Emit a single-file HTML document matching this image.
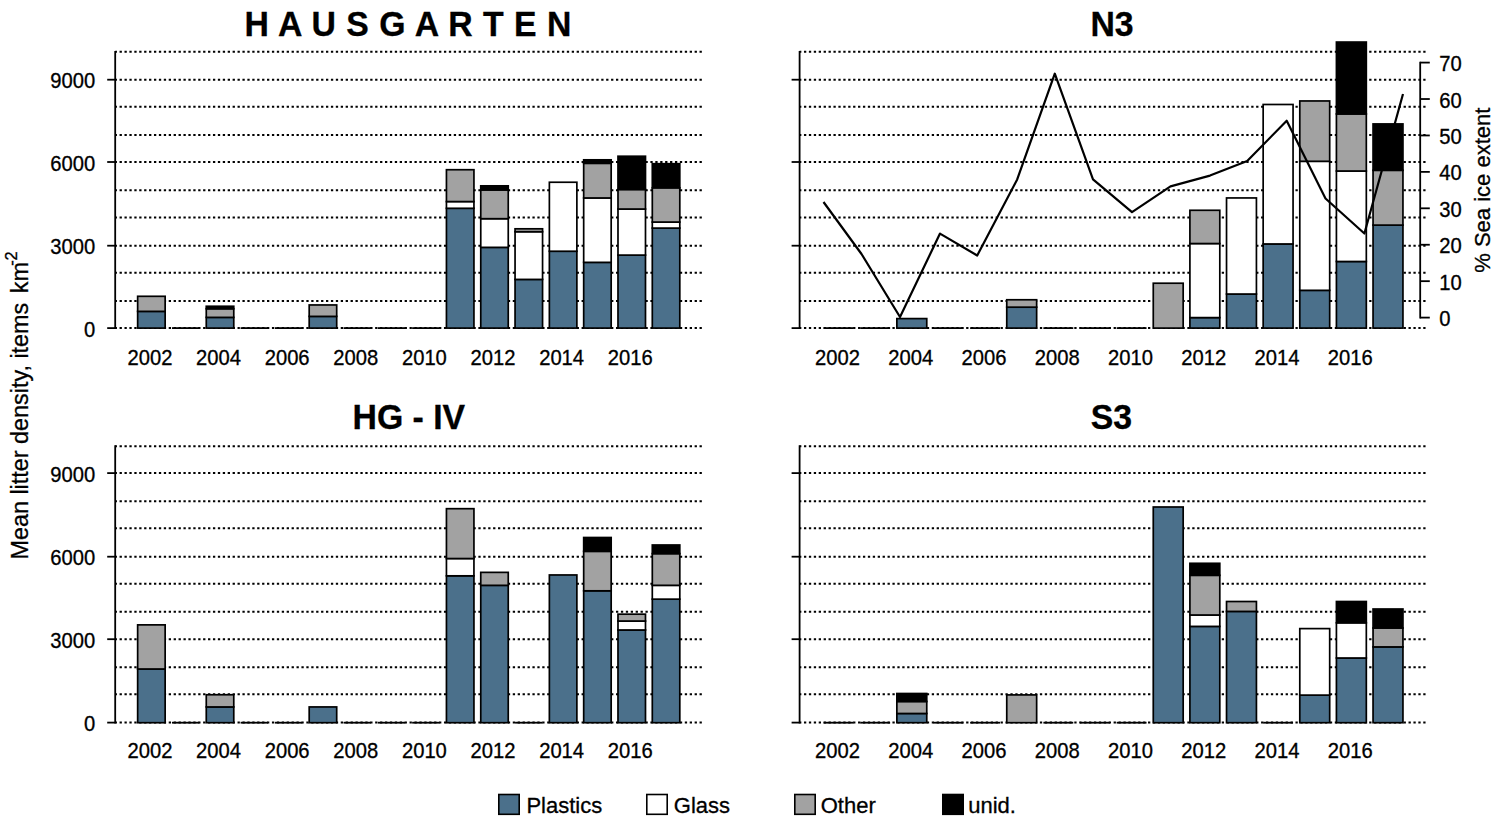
<!DOCTYPE html>
<html><head><meta charset="utf-8"><title>Litter density</title>
<style>
html,body{margin:0;padding:0;background:#fff;}
body{width:1500px;height:831px;overflow:hidden;font-family:"Liberation Sans",sans-serif;}
svg{display:block;}
text{font-family:"Liberation Sans",sans-serif;fill:#000;stroke:#000;stroke-width:0.3px;}
.t{font-size:20.2px;}
.leg{font-size:22px;}
.yl{font-size:23.4px;}
.title{font-size:33.8px;font-weight:bold;}
.dot{stroke:#000;stroke-width:2;stroke-dasharray:2.3 2.615;stroke-dashoffset:0.55;}
</style></head>
<body>
<svg width="1500" height="831" viewBox="0 0 1500 831">
<rect x="0" y="0" width="1500" height="831" fill="#fff"/>
<line x1="115.20" y1="328.10" x2="702.00" y2="328.10" class="dot"/>
<line x1="115.20" y1="301.10" x2="702.00" y2="301.10" class="dot"/>
<line x1="115.20" y1="272.70" x2="702.00" y2="272.70" class="dot"/>
<line x1="115.20" y1="245.70" x2="702.00" y2="245.70" class="dot"/>
<line x1="115.20" y1="217.60" x2="702.00" y2="217.60" class="dot"/>
<line x1="115.20" y1="190.30" x2="702.00" y2="190.30" class="dot"/>
<line x1="115.20" y1="162.00" x2="702.00" y2="162.00" class="dot"/>
<line x1="115.20" y1="135.10" x2="702.00" y2="135.10" class="dot"/>
<line x1="115.20" y1="106.80" x2="702.00" y2="106.80" class="dot"/>
<line x1="115.20" y1="79.70" x2="702.00" y2="79.70" class="dot"/>
<line x1="115.20" y1="51.80" x2="702.00" y2="51.80" class="dot"/>
<rect x="137.65" y="311.37" width="27.50" height="16.73" fill="#4b708b" stroke="#000" stroke-width="1.7"/>
<rect x="137.65" y="296.30" width="27.50" height="15.07" fill="#a2a2a2" stroke="#000" stroke-width="1.7"/>
<line x1="171.96" y1="328.10" x2="199.46" y2="328.10" stroke="#000" stroke-width="1.8"/>
<rect x="206.27" y="317.37" width="27.50" height="10.73" fill="#4b708b" stroke="#000" stroke-width="1.7"/>
<rect x="206.27" y="308.75" width="27.50" height="8.63" fill="#a2a2a2" stroke="#000" stroke-width="1.7"/>
<rect x="206.27" y="306.26" width="27.50" height="2.49" fill="#000000" stroke="#000" stroke-width="1.7"/>
<line x1="240.58" y1="328.10" x2="268.08" y2="328.10" stroke="#000" stroke-width="1.8"/>
<line x1="274.89" y1="328.10" x2="302.39" y2="328.10" stroke="#000" stroke-width="1.8"/>
<rect x="309.20" y="316.38" width="27.50" height="11.72" fill="#4b708b" stroke="#000" stroke-width="1.7"/>
<rect x="309.20" y="304.96" width="27.50" height="11.42" fill="#a2a2a2" stroke="#000" stroke-width="1.7"/>
<line x1="343.51" y1="328.10" x2="371.01" y2="328.10" stroke="#000" stroke-width="1.8"/>
<line x1="377.82" y1="328.10" x2="405.32" y2="328.10" stroke="#000" stroke-width="1.8"/>
<line x1="412.13" y1="328.10" x2="439.63" y2="328.10" stroke="#000" stroke-width="1.8"/>
<rect x="446.44" y="208.29" width="27.50" height="119.81" fill="#4b708b" stroke="#000" stroke-width="1.7"/>
<rect x="446.44" y="201.57" width="27.50" height="6.72" fill="#ffffff" stroke="#000" stroke-width="1.7"/>
<rect x="446.44" y="169.72" width="27.50" height="31.85" fill="#a2a2a2" stroke="#000" stroke-width="1.7"/>
<rect x="480.75" y="247.36" width="27.50" height="80.74" fill="#4b708b" stroke="#000" stroke-width="1.7"/>
<rect x="480.75" y="218.69" width="27.50" height="28.67" fill="#ffffff" stroke="#000" stroke-width="1.7"/>
<rect x="480.75" y="189.96" width="27.50" height="28.73" fill="#a2a2a2" stroke="#000" stroke-width="1.7"/>
<rect x="480.75" y="185.84" width="27.50" height="4.12" fill="#000000" stroke="#000" stroke-width="1.7"/>
<rect x="515.06" y="279.41" width="27.50" height="48.69" fill="#4b708b" stroke="#000" stroke-width="1.7"/>
<rect x="515.06" y="231.71" width="27.50" height="47.70" fill="#ffffff" stroke="#000" stroke-width="1.7"/>
<rect x="515.06" y="228.81" width="27.50" height="2.90" fill="#a2a2a2" stroke="#000" stroke-width="1.7"/>
<rect x="549.37" y="251.23" width="27.50" height="76.87" fill="#4b708b" stroke="#000" stroke-width="1.7"/>
<rect x="549.37" y="182.25" width="27.50" height="68.99" fill="#ffffff" stroke="#000" stroke-width="1.7"/>
<rect x="583.68" y="262.35" width="27.50" height="65.75" fill="#4b708b" stroke="#000" stroke-width="1.7"/>
<rect x="583.68" y="197.95" width="27.50" height="64.40" fill="#ffffff" stroke="#000" stroke-width="1.7"/>
<rect x="583.68" y="163.31" width="27.50" height="34.65" fill="#a2a2a2" stroke="#000" stroke-width="1.7"/>
<rect x="583.68" y="159.82" width="27.50" height="3.48" fill="#000000" stroke="#000" stroke-width="1.7"/>
<rect x="617.99" y="255.10" width="27.50" height="73.00" fill="#4b708b" stroke="#000" stroke-width="1.7"/>
<rect x="617.99" y="209.04" width="27.50" height="46.06" fill="#ffffff" stroke="#000" stroke-width="1.7"/>
<rect x="617.99" y="189.49" width="27.50" height="19.55" fill="#a2a2a2" stroke="#000" stroke-width="1.7"/>
<rect x="617.99" y="156.23" width="27.50" height="33.26" fill="#000000" stroke="#000" stroke-width="1.7"/>
<rect x="652.30" y="228.09" width="27.50" height="100.01" fill="#4b708b" stroke="#000" stroke-width="1.7"/>
<rect x="652.30" y="222.06" width="27.50" height="6.03" fill="#ffffff" stroke="#000" stroke-width="1.7"/>
<rect x="652.30" y="187.80" width="27.50" height="34.26" fill="#a2a2a2" stroke="#000" stroke-width="1.7"/>
<rect x="652.30" y="163.72" width="27.50" height="24.08" fill="#000000" stroke="#000" stroke-width="1.7"/>
<line x1="115.20" y1="50.90" x2="115.20" y2="329.00" stroke="#000" stroke-width="1.8"/>
<line x1="107.20" y1="328.10" x2="115.20" y2="328.10" stroke="#000" stroke-width="1.8"/>
<text transform="translate(95.20,336.60) scale(1,1.08)" text-anchor="end" class="t">0</text>
<line x1="107.20" y1="245.70" x2="115.20" y2="245.70" stroke="#000" stroke-width="1.8"/>
<text transform="translate(95.20,254.20) scale(1,1.08)" text-anchor="end" class="t">3000</text>
<line x1="107.20" y1="162.00" x2="115.20" y2="162.00" stroke="#000" stroke-width="1.8"/>
<text transform="translate(95.20,170.50) scale(1,1.08)" text-anchor="end" class="t">6000</text>
<line x1="107.20" y1="79.70" x2="115.20" y2="79.70" stroke="#000" stroke-width="1.8"/>
<text transform="translate(95.20,88.20) scale(1,1.08)" text-anchor="end" class="t">9000</text>
<text transform="translate(149.90,364.70) scale(1,1.08)" text-anchor="middle" class="t">2002</text>
<text transform="translate(218.52,364.70) scale(1,1.08)" text-anchor="middle" class="t">2004</text>
<text transform="translate(287.14,364.70) scale(1,1.08)" text-anchor="middle" class="t">2006</text>
<text transform="translate(355.76,364.70) scale(1,1.08)" text-anchor="middle" class="t">2008</text>
<text transform="translate(424.38,364.70) scale(1,1.08)" text-anchor="middle" class="t">2010</text>
<text transform="translate(493.00,364.70) scale(1,1.08)" text-anchor="middle" class="t">2012</text>
<text transform="translate(561.62,364.70) scale(1,1.08)" text-anchor="middle" class="t">2014</text>
<text transform="translate(630.24,364.70) scale(1,1.08)" text-anchor="middle" class="t">2016</text>
<text transform="translate(408.20,36.00) scale(1,1.04)" text-anchor="middle" class="title" letter-spacing="0.5">H A U S G A R T E N</text>
<line x1="799.60" y1="328.10" x2="1426.00" y2="328.10" class="dot"/>
<line x1="799.60" y1="301.10" x2="1426.00" y2="301.10" class="dot"/>
<line x1="799.60" y1="272.70" x2="1426.00" y2="272.70" class="dot"/>
<line x1="799.60" y1="245.70" x2="1426.00" y2="245.70" class="dot"/>
<line x1="799.60" y1="217.60" x2="1426.00" y2="217.60" class="dot"/>
<line x1="799.60" y1="190.30" x2="1426.00" y2="190.30" class="dot"/>
<line x1="799.60" y1="162.00" x2="1426.00" y2="162.00" class="dot"/>
<line x1="799.60" y1="135.10" x2="1426.00" y2="135.10" class="dot"/>
<line x1="799.60" y1="106.80" x2="1426.00" y2="106.80" class="dot"/>
<line x1="799.60" y1="79.70" x2="1426.00" y2="79.70" class="dot"/>
<line x1="799.60" y1="51.80" x2="1426.00" y2="51.80" class="dot"/>
<line x1="823.60" y1="328.10" x2="853.50" y2="328.10" stroke="#000" stroke-width="1.8"/>
<line x1="860.23" y1="328.10" x2="890.13" y2="328.10" stroke="#000" stroke-width="1.8"/>
<rect x="896.86" y="318.59" width="29.90" height="9.51" fill="#4b708b" stroke="#000" stroke-width="1.7"/>
<line x1="933.49" y1="328.10" x2="963.39" y2="328.10" stroke="#000" stroke-width="1.8"/>
<line x1="970.12" y1="328.10" x2="1000.02" y2="328.10" stroke="#000" stroke-width="1.8"/>
<rect x="1006.75" y="307.17" width="29.90" height="20.93" fill="#4b708b" stroke="#000" stroke-width="1.7"/>
<rect x="1006.75" y="299.76" width="29.90" height="7.41" fill="#a2a2a2" stroke="#000" stroke-width="1.7"/>
<line x1="1043.38" y1="328.10" x2="1073.28" y2="328.10" stroke="#000" stroke-width="1.8"/>
<line x1="1080.01" y1="328.10" x2="1109.91" y2="328.10" stroke="#000" stroke-width="1.8"/>
<line x1="1116.64" y1="328.10" x2="1146.54" y2="328.10" stroke="#000" stroke-width="1.8"/>
<rect x="1153.27" y="283.22" width="29.90" height="44.88" fill="#a2a2a2" stroke="#000" stroke-width="1.7"/>
<rect x="1189.90" y="317.59" width="29.90" height="10.51" fill="#4b708b" stroke="#000" stroke-width="1.7"/>
<rect x="1189.90" y="243.55" width="29.90" height="74.05" fill="#ffffff" stroke="#000" stroke-width="1.7"/>
<rect x="1189.90" y="210.28" width="29.90" height="33.26" fill="#a2a2a2" stroke="#000" stroke-width="1.7"/>
<rect x="1226.53" y="294.04" width="29.90" height="34.06" fill="#4b708b" stroke="#000" stroke-width="1.7"/>
<rect x="1226.53" y="197.95" width="29.90" height="96.08" fill="#ffffff" stroke="#000" stroke-width="1.7"/>
<rect x="1263.16" y="243.96" width="29.90" height="84.14" fill="#4b708b" stroke="#000" stroke-width="1.7"/>
<rect x="1263.16" y="104.49" width="29.90" height="139.47" fill="#ffffff" stroke="#000" stroke-width="1.7"/>
<rect x="1299.79" y="290.33" width="29.90" height="37.77" fill="#4b708b" stroke="#000" stroke-width="1.7"/>
<rect x="1299.79" y="161.29" width="29.90" height="129.04" fill="#ffffff" stroke="#000" stroke-width="1.7"/>
<rect x="1299.79" y="100.96" width="29.90" height="60.33" fill="#a2a2a2" stroke="#000" stroke-width="1.7"/>
<rect x="1336.42" y="261.49" width="29.90" height="66.61" fill="#4b708b" stroke="#000" stroke-width="1.7"/>
<rect x="1336.42" y="171.02" width="29.90" height="90.47" fill="#ffffff" stroke="#000" stroke-width="1.7"/>
<rect x="1336.42" y="113.95" width="29.90" height="57.07" fill="#a2a2a2" stroke="#000" stroke-width="1.7"/>
<rect x="1336.42" y="42.06" width="29.90" height="71.89" fill="#000000" stroke="#000" stroke-width="1.7"/>
<rect x="1373.05" y="225.10" width="29.90" height="103.00" fill="#4b708b" stroke="#000" stroke-width="1.7"/>
<rect x="1373.05" y="170.30" width="29.90" height="54.80" fill="#a2a2a2" stroke="#000" stroke-width="1.7"/>
<rect x="1373.05" y="123.93" width="29.90" height="46.37" fill="#000000" stroke="#000" stroke-width="1.7"/>
<line x1="799.60" y1="50.90" x2="799.60" y2="329.00" stroke="#000" stroke-width="1.8"/>
<line x1="791.60" y1="328.10" x2="799.60" y2="328.10" stroke="#000" stroke-width="1.8"/>
<line x1="791.60" y1="245.70" x2="799.60" y2="245.70" stroke="#000" stroke-width="1.8"/>
<line x1="791.60" y1="162.00" x2="799.60" y2="162.00" stroke="#000" stroke-width="1.8"/>
<line x1="791.60" y1="79.70" x2="799.60" y2="79.70" stroke="#000" stroke-width="1.8"/>
<text transform="translate(837.45,364.70) scale(1,1.08)" text-anchor="middle" class="t">2002</text>
<text transform="translate(910.71,364.70) scale(1,1.08)" text-anchor="middle" class="t">2004</text>
<text transform="translate(983.97,364.70) scale(1,1.08)" text-anchor="middle" class="t">2006</text>
<text transform="translate(1057.23,364.70) scale(1,1.08)" text-anchor="middle" class="t">2008</text>
<text transform="translate(1130.49,364.70) scale(1,1.08)" text-anchor="middle" class="t">2010</text>
<text transform="translate(1203.75,364.70) scale(1,1.08)" text-anchor="middle" class="t">2012</text>
<text transform="translate(1277.01,364.70) scale(1,1.08)" text-anchor="middle" class="t">2014</text>
<text transform="translate(1350.27,364.70) scale(1,1.08)" text-anchor="middle" class="t">2016</text>
<text transform="translate(1112.00,36.00) scale(1,1.04)" text-anchor="middle" class="title">N3</text>
<line x1="115.20" y1="722.60" x2="702.00" y2="722.60" class="dot"/>
<line x1="115.20" y1="694.30" x2="702.00" y2="694.30" class="dot"/>
<line x1="115.20" y1="667.30" x2="702.00" y2="667.30" class="dot"/>
<line x1="115.20" y1="639.20" x2="702.00" y2="639.20" class="dot"/>
<line x1="115.20" y1="611.80" x2="702.00" y2="611.80" class="dot"/>
<line x1="115.20" y1="583.70" x2="702.00" y2="583.70" class="dot"/>
<line x1="115.20" y1="556.70" x2="702.00" y2="556.70" class="dot"/>
<line x1="115.20" y1="528.30" x2="702.00" y2="528.30" class="dot"/>
<line x1="115.20" y1="501.20" x2="702.00" y2="501.20" class="dot"/>
<line x1="115.20" y1="473.10" x2="702.00" y2="473.10" class="dot"/>
<line x1="115.20" y1="446.20" x2="702.00" y2="446.20" class="dot"/>
<rect x="137.65" y="669.00" width="27.50" height="53.70" fill="#4b708b" stroke="#000" stroke-width="1.7"/>
<rect x="137.65" y="624.87" width="27.50" height="44.13" fill="#a2a2a2" stroke="#000" stroke-width="1.7"/>
<line x1="171.96" y1="722.70" x2="199.46" y2="722.70" stroke="#000" stroke-width="1.8"/>
<rect x="206.27" y="706.94" width="27.50" height="15.76" fill="#4b708b" stroke="#000" stroke-width="1.7"/>
<rect x="206.27" y="694.75" width="27.50" height="12.19" fill="#a2a2a2" stroke="#000" stroke-width="1.7"/>
<line x1="240.58" y1="722.70" x2="268.08" y2="722.70" stroke="#000" stroke-width="1.8"/>
<line x1="274.89" y1="722.70" x2="302.39" y2="722.70" stroke="#000" stroke-width="1.8"/>
<rect x="309.20" y="706.94" width="27.50" height="15.76" fill="#4b708b" stroke="#000" stroke-width="1.7"/>
<line x1="343.51" y1="722.70" x2="371.01" y2="722.70" stroke="#000" stroke-width="1.8"/>
<line x1="377.82" y1="722.70" x2="405.32" y2="722.70" stroke="#000" stroke-width="1.8"/>
<line x1="412.13" y1="722.70" x2="439.63" y2="722.70" stroke="#000" stroke-width="1.8"/>
<rect x="446.44" y="575.82" width="27.50" height="146.88" fill="#4b708b" stroke="#000" stroke-width="1.7"/>
<rect x="446.44" y="558.54" width="27.50" height="17.28" fill="#ffffff" stroke="#000" stroke-width="1.7"/>
<rect x="446.44" y="508.69" width="27.50" height="49.85" fill="#a2a2a2" stroke="#000" stroke-width="1.7"/>
<rect x="480.75" y="585.33" width="27.50" height="137.37" fill="#4b708b" stroke="#000" stroke-width="1.7"/>
<rect x="480.75" y="572.37" width="27.50" height="12.97" fill="#a2a2a2" stroke="#000" stroke-width="1.7"/>
<line x1="515.06" y1="722.70" x2="542.56" y2="722.70" stroke="#000" stroke-width="1.8"/>
<rect x="549.37" y="574.97" width="27.50" height="147.73" fill="#4b708b" stroke="#000" stroke-width="1.7"/>
<rect x="583.68" y="590.81" width="27.50" height="131.89" fill="#4b708b" stroke="#000" stroke-width="1.7"/>
<rect x="583.68" y="551.33" width="27.50" height="39.48" fill="#a2a2a2" stroke="#000" stroke-width="1.7"/>
<rect x="583.68" y="537.50" width="27.50" height="13.83" fill="#000000" stroke="#000" stroke-width="1.7"/>
<rect x="617.99" y="629.99" width="27.50" height="92.71" fill="#4b708b" stroke="#000" stroke-width="1.7"/>
<rect x="617.99" y="621.06" width="27.50" height="8.93" fill="#ffffff" stroke="#000" stroke-width="1.7"/>
<rect x="617.99" y="614.17" width="27.50" height="6.88" fill="#a2a2a2" stroke="#000" stroke-width="1.7"/>
<rect x="652.30" y="599.16" width="27.50" height="123.54" fill="#4b708b" stroke="#000" stroke-width="1.7"/>
<rect x="652.30" y="585.33" width="27.50" height="13.82" fill="#ffffff" stroke="#000" stroke-width="1.7"/>
<rect x="652.30" y="553.62" width="27.50" height="31.71" fill="#a2a2a2" stroke="#000" stroke-width="1.7"/>
<rect x="652.30" y="544.99" width="27.50" height="8.63" fill="#000000" stroke="#000" stroke-width="1.7"/>
<line x1="115.20" y1="445.30" x2="115.20" y2="723.60" stroke="#000" stroke-width="1.8"/>
<line x1="107.20" y1="722.60" x2="115.20" y2="722.60" stroke="#000" stroke-width="1.8"/>
<text transform="translate(95.20,731.10) scale(1,1.08)" text-anchor="end" class="t">0</text>
<line x1="107.20" y1="639.20" x2="115.20" y2="639.20" stroke="#000" stroke-width="1.8"/>
<text transform="translate(95.20,647.70) scale(1,1.08)" text-anchor="end" class="t">3000</text>
<line x1="107.20" y1="556.70" x2="115.20" y2="556.70" stroke="#000" stroke-width="1.8"/>
<text transform="translate(95.20,565.20) scale(1,1.08)" text-anchor="end" class="t">6000</text>
<line x1="107.20" y1="473.10" x2="115.20" y2="473.10" stroke="#000" stroke-width="1.8"/>
<text transform="translate(95.20,481.60) scale(1,1.08)" text-anchor="end" class="t">9000</text>
<text transform="translate(149.90,757.60) scale(1,1.08)" text-anchor="middle" class="t">2002</text>
<text transform="translate(218.52,757.60) scale(1,1.08)" text-anchor="middle" class="t">2004</text>
<text transform="translate(287.14,757.60) scale(1,1.08)" text-anchor="middle" class="t">2006</text>
<text transform="translate(355.76,757.60) scale(1,1.08)" text-anchor="middle" class="t">2008</text>
<text transform="translate(424.38,757.60) scale(1,1.08)" text-anchor="middle" class="t">2010</text>
<text transform="translate(493.00,757.60) scale(1,1.08)" text-anchor="middle" class="t">2012</text>
<text transform="translate(561.62,757.60) scale(1,1.08)" text-anchor="middle" class="t">2014</text>
<text transform="translate(630.24,757.60) scale(1,1.08)" text-anchor="middle" class="t">2016</text>
<text transform="translate(408.80,429.20) scale(1,1.04)" text-anchor="middle" class="title">HG - IV</text>
<line x1="799.60" y1="722.60" x2="1426.00" y2="722.60" class="dot"/>
<line x1="799.60" y1="694.30" x2="1426.00" y2="694.30" class="dot"/>
<line x1="799.60" y1="667.30" x2="1426.00" y2="667.30" class="dot"/>
<line x1="799.60" y1="639.20" x2="1426.00" y2="639.20" class="dot"/>
<line x1="799.60" y1="611.80" x2="1426.00" y2="611.80" class="dot"/>
<line x1="799.60" y1="583.70" x2="1426.00" y2="583.70" class="dot"/>
<line x1="799.60" y1="556.70" x2="1426.00" y2="556.70" class="dot"/>
<line x1="799.60" y1="528.30" x2="1426.00" y2="528.30" class="dot"/>
<line x1="799.60" y1="501.20" x2="1426.00" y2="501.20" class="dot"/>
<line x1="799.60" y1="473.10" x2="1426.00" y2="473.10" class="dot"/>
<line x1="799.60" y1="446.20" x2="1426.00" y2="446.20" class="dot"/>
<line x1="823.60" y1="722.70" x2="853.50" y2="722.70" stroke="#000" stroke-width="1.8"/>
<line x1="860.23" y1="722.70" x2="890.13" y2="722.70" stroke="#000" stroke-width="1.8"/>
<rect x="896.86" y="713.49" width="29.90" height="9.21" fill="#4b708b" stroke="#000" stroke-width="1.7"/>
<rect x="896.86" y="701.49" width="29.90" height="12.00" fill="#a2a2a2" stroke="#000" stroke-width="1.7"/>
<rect x="896.86" y="693.50" width="29.90" height="7.99" fill="#000000" stroke="#000" stroke-width="1.7"/>
<line x1="933.49" y1="722.70" x2="963.39" y2="722.70" stroke="#000" stroke-width="1.8"/>
<line x1="970.12" y1="722.70" x2="1000.02" y2="722.70" stroke="#000" stroke-width="1.8"/>
<rect x="1006.75" y="694.91" width="29.90" height="27.79" fill="#a2a2a2" stroke="#000" stroke-width="1.7"/>
<line x1="1043.38" y1="722.70" x2="1073.28" y2="722.70" stroke="#000" stroke-width="1.8"/>
<line x1="1080.01" y1="722.70" x2="1109.91" y2="722.70" stroke="#000" stroke-width="1.8"/>
<line x1="1116.64" y1="722.70" x2="1146.54" y2="722.70" stroke="#000" stroke-width="1.8"/>
<rect x="1153.27" y="507.00" width="29.90" height="215.70" fill="#4b708b" stroke="#000" stroke-width="1.7"/>
<rect x="1189.90" y="626.40" width="29.90" height="96.30" fill="#4b708b" stroke="#000" stroke-width="1.7"/>
<rect x="1189.90" y="615.00" width="29.90" height="11.39" fill="#ffffff" stroke="#000" stroke-width="1.7"/>
<rect x="1189.90" y="575.30" width="29.90" height="39.71" fill="#a2a2a2" stroke="#000" stroke-width="1.7"/>
<rect x="1189.90" y="563.30" width="29.90" height="12.00" fill="#000000" stroke="#000" stroke-width="1.7"/>
<rect x="1226.53" y="611.41" width="29.90" height="111.29" fill="#4b708b" stroke="#000" stroke-width="1.7"/>
<rect x="1226.53" y="601.51" width="29.90" height="9.90" fill="#a2a2a2" stroke="#000" stroke-width="1.7"/>
<line x1="1263.16" y1="722.70" x2="1293.06" y2="722.70" stroke="#000" stroke-width="1.8"/>
<rect x="1299.79" y="695.11" width="29.90" height="27.59" fill="#4b708b" stroke="#000" stroke-width="1.7"/>
<rect x="1299.79" y="628.61" width="29.90" height="66.50" fill="#ffffff" stroke="#000" stroke-width="1.7"/>
<rect x="1336.42" y="658.00" width="29.90" height="64.70" fill="#4b708b" stroke="#000" stroke-width="1.7"/>
<rect x="1336.42" y="622.80" width="29.90" height="35.20" fill="#ffffff" stroke="#000" stroke-width="1.7"/>
<rect x="1336.42" y="601.51" width="29.90" height="21.29" fill="#000000" stroke="#000" stroke-width="1.7"/>
<rect x="1373.05" y="646.91" width="29.90" height="75.79" fill="#4b708b" stroke="#000" stroke-width="1.7"/>
<rect x="1373.05" y="628.00" width="29.90" height="18.91" fill="#a2a2a2" stroke="#000" stroke-width="1.7"/>
<rect x="1373.05" y="609.00" width="29.90" height="19.00" fill="#000000" stroke="#000" stroke-width="1.7"/>
<line x1="799.60" y1="445.30" x2="799.60" y2="723.60" stroke="#000" stroke-width="1.8"/>
<line x1="791.60" y1="722.60" x2="799.60" y2="722.60" stroke="#000" stroke-width="1.8"/>
<line x1="791.60" y1="639.20" x2="799.60" y2="639.20" stroke="#000" stroke-width="1.8"/>
<line x1="791.60" y1="556.70" x2="799.60" y2="556.70" stroke="#000" stroke-width="1.8"/>
<line x1="791.60" y1="473.10" x2="799.60" y2="473.10" stroke="#000" stroke-width="1.8"/>
<text transform="translate(837.45,757.60) scale(1,1.08)" text-anchor="middle" class="t">2002</text>
<text transform="translate(910.71,757.60) scale(1,1.08)" text-anchor="middle" class="t">2004</text>
<text transform="translate(983.97,757.60) scale(1,1.08)" text-anchor="middle" class="t">2006</text>
<text transform="translate(1057.23,757.60) scale(1,1.08)" text-anchor="middle" class="t">2008</text>
<text transform="translate(1130.49,757.60) scale(1,1.08)" text-anchor="middle" class="t">2010</text>
<text transform="translate(1203.75,757.60) scale(1,1.08)" text-anchor="middle" class="t">2012</text>
<text transform="translate(1277.01,757.60) scale(1,1.08)" text-anchor="middle" class="t">2014</text>
<text transform="translate(1350.27,757.60) scale(1,1.08)" text-anchor="middle" class="t">2016</text>
<text transform="translate(1111.50,429.20) scale(1,1.04)" text-anchor="middle" class="title">S3</text>
<polyline points="823.5,202.0 861.5,254.0 900.0,317.0 940.0,233.6 977.2,255.5 1017.2,179.4 1054.8,73.7 1093.0,179.4 1132.0,212.2 1170.5,186.4 1210.0,175.6 1247.2,161.0 1286.7,120.7 1325.5,198.5 1364.4,233.5 1403.0,94.0" fill="none" stroke="#000" stroke-width="2.2" stroke-linejoin="round"/>
<line x1="1420.2" y1="61.69" x2="1420.2" y2="318.50" stroke="#000" stroke-width="1.8"/>
<line x1="1420.2" y1="317.60" x2="1429.8" y2="317.60" stroke="#000" stroke-width="1.8"/>
<text transform="translate(1439.20,326.20) scale(1,1.08)" text-anchor="start" class="t">0</text>
<line x1="1420.2" y1="281.17" x2="1429.8" y2="281.17" stroke="#000" stroke-width="1.8"/>
<text transform="translate(1439.20,289.77) scale(1,1.08)" text-anchor="start" class="t">10</text>
<line x1="1420.2" y1="244.74" x2="1429.8" y2="244.74" stroke="#000" stroke-width="1.8"/>
<text transform="translate(1439.20,253.34) scale(1,1.08)" text-anchor="start" class="t">20</text>
<line x1="1420.2" y1="208.31" x2="1429.8" y2="208.31" stroke="#000" stroke-width="1.8"/>
<text transform="translate(1439.20,216.91) scale(1,1.08)" text-anchor="start" class="t">30</text>
<line x1="1420.2" y1="171.88" x2="1429.8" y2="171.88" stroke="#000" stroke-width="1.8"/>
<text transform="translate(1439.20,180.48) scale(1,1.08)" text-anchor="start" class="t">40</text>
<line x1="1420.2" y1="135.45" x2="1429.8" y2="135.45" stroke="#000" stroke-width="1.8"/>
<text transform="translate(1439.20,144.05) scale(1,1.08)" text-anchor="start" class="t">50</text>
<line x1="1420.2" y1="99.02" x2="1429.8" y2="99.02" stroke="#000" stroke-width="1.8"/>
<text transform="translate(1439.20,107.62) scale(1,1.08)" text-anchor="start" class="t">60</text>
<line x1="1420.2" y1="62.59" x2="1429.8" y2="62.59" stroke="#000" stroke-width="1.8"/>
<text transform="translate(1439.20,71.19) scale(1,1.08)" text-anchor="start" class="t">70</text>
<text transform="translate(1490.0,190.2) rotate(-90) scale(1,1.04)" text-anchor="middle" class="leg">% Sea ice extent</text>
<text transform="translate(28.3,559.6) rotate(-90) scale(1,0.99)" class="yl">Mean litter density, items<tspan dx="9.6">km</tspan><tspan dy="-11.5" dx="-3.9" font-size="16.4">-2</tspan></text>
<rect x="498.8" y="794.5" width="20.4" height="19.8" fill="#4b708b" stroke="#000" stroke-width="1.6"/>
<text transform="translate(526.40,813.30) scale(1,1.04)" text-anchor="start" class="leg">Plastics</text>
<rect x="646.8" y="794.5" width="20.4" height="19.8" fill="#ffffff" stroke="#000" stroke-width="1.6"/>
<text transform="translate(673.80,813.30) scale(1,1.04)" text-anchor="start" class="leg">Glass</text>
<rect x="794.8" y="794.5" width="20.4" height="19.8" fill="#a2a2a2" stroke="#000" stroke-width="1.6"/>
<text transform="translate(820.70,813.30) scale(1,1.04)" text-anchor="start" class="leg">Other</text>
<rect x="942.8" y="794.5" width="20.4" height="19.8" fill="#000000" stroke="#000" stroke-width="1.6"/>
<text transform="translate(968.20,813.30) scale(1,1.04)" text-anchor="start" class="leg">unid.</text>
</svg>
</body></html>
